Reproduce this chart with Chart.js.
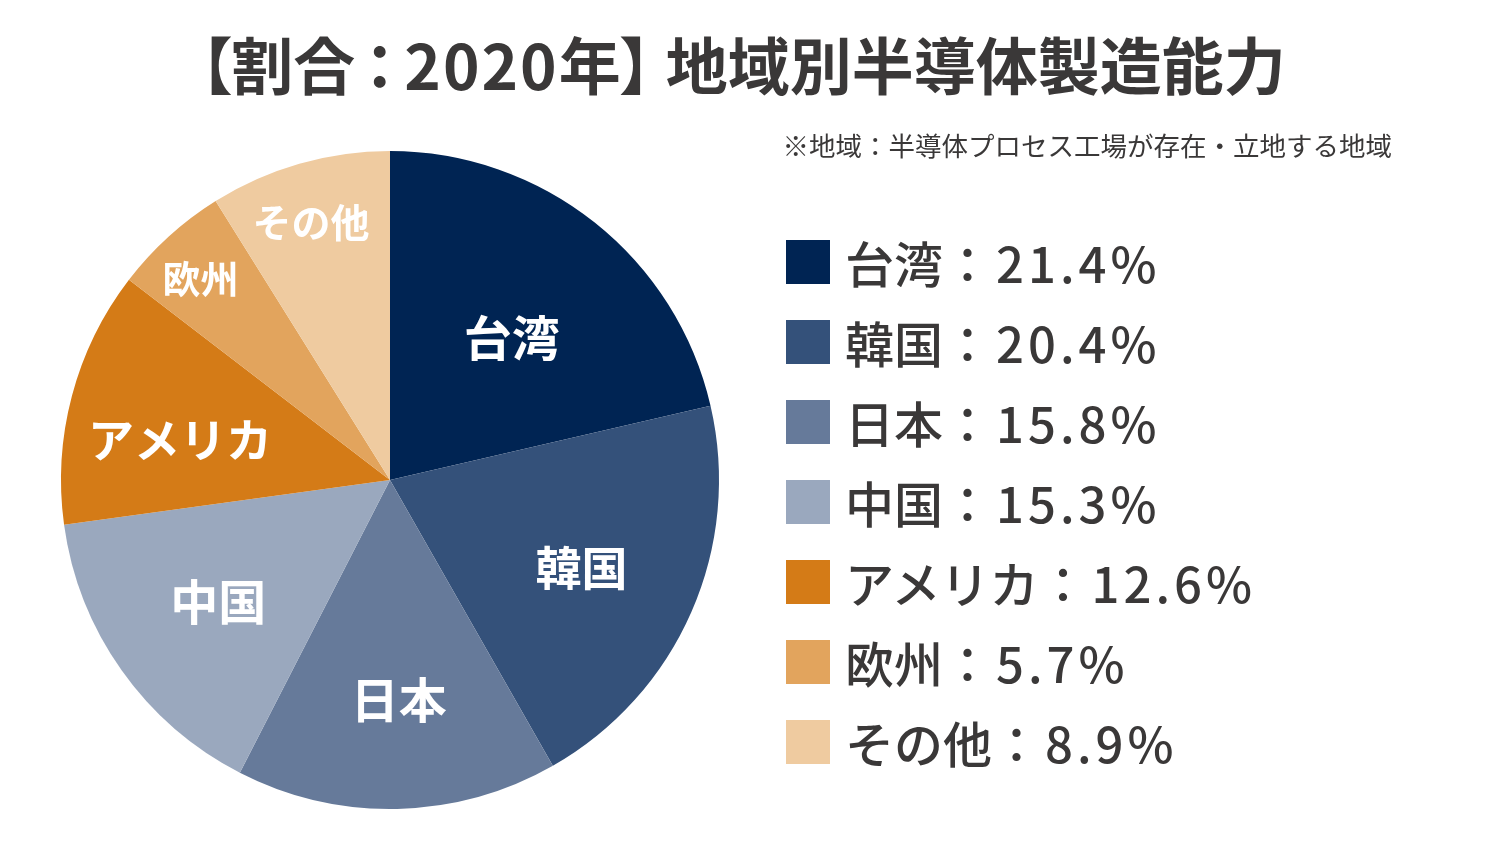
<!DOCTYPE html>
<html lang="ja">
<head>
<meta charset="utf-8">
<script src="https://cdn.jsdelivr.net/npm/chart.js@4/dist/chart.umd.min.js"></script>
<style>
  html, body { margin: 0; padding: 0; background: #fff; }
  body { width: 1486px; height: 847px; position: relative; overflow: hidden;
         font-family: "Noto Sans CJK JP", "Noto Sans", sans-serif; color: #3a3838; }
  #wrap { position: absolute; left: 0; top: 0; width: 1486px; height: 847px; }
  #title { position: absolute; left: 0; width: 1486px; top: 23px; text-align: center;
           font-size: 62px; font-weight: 700; line-height: 80px;
           font-feature-settings: "palt"; }
  #title .num { letter-spacing: 2px; }
  #title .sep { margin: 0 9px; }
  #note { position: absolute; right: 94px; top: 127px; font-size: 26.5px; line-height: 36px; }
  #legend { position: absolute; left: 786px; top: 222px; }
  .row { height: 80px; display: flex; align-items: center; }
  .box { width: 44px; height: 44px; margin-right: 15px; }
  .txt { font-size: 49px; font-weight: 500; line-height: 80px; }
  .txt .num { letter-spacing: 4px; margin-left: 4px; }
</style>
</head>
<body>
<div id="wrap"><canvas id="pieChart" width="1486" height="847"></canvas></div>
<div id="title">【割合<span class="sep">：</span><span class="num">2020</span>年】 地域別半導体製造能力</div>
<div id="note">※地域：半導体プロセス工場が存在・立地する地域</div>
<div id="legend"></div>
<script>
// donnees
const regions = ['台湾', '韓国', '日本', '中国', 'アメリカ', '欧州', 'その他'];
const shares = [21.4, 20.4, 15.8, 15.3, 12.6, 5.7, 8.9];
const colors = ['#002453', '#34517a', '#667a9a', '#9aa8be', '#d47b17', '#e2a45d', '#efcba0'];

// style des etiquettes dans les parts (rayon relatif, decalage en degres, taille)
const labelRadius = [0.57, 0.64, 0.67, 0.64, 0.65, 0.84, 0.82];
const labelTurn = [2, 1, -1, 0, -4, -1, -1];
const labelSize = [48, 46, 48, 48, 46, 38, 39];

// legende a droite
const legend = document.getElementById('legend');
regions.forEach((name, i) => {
    const row = document.createElement('div');
    row.className = 'row';
    row.innerHTML = `<div class="box" style="background:${colors[i]}"></div>
        <div class="txt">${name}：<span class="num">${shares[i].toFixed(1)}%</span></div>`;
    legend.appendChild(row);
});

//etiquettes blanches sur les parts :
const sliceLabels = {
    id: 'sliceLabels',
    afterDatasetsDraw(chart) {
        const ctx = chart.ctx;
        const arcs = chart.getDatasetMeta(0).data;
        ctx.save();
        ctx.fillStyle = '#ffffff';
        ctx.textAlign = 'center';
        ctx.textBaseline = 'middle';
        arcs.forEach((arc, i) => {
            const p = arc.getProps(['x', 'y', 'startAngle', 'endAngle', 'outerRadius'], true);
            const mid = (p.startAngle + p.endAngle) / 2 + labelTurn[i] * Math.PI / 180;
            const r = p.outerRadius * labelRadius[i];
            ctx.font = `700 ${labelSize[i]}px "Noto Sans CJK JP", sans-serif`;
            ctx.fillText(regions[i], p.x + Math.cos(mid) * r, p.y + Math.sin(mid) * r);
        });
        ctx.restore();
    }
};

const chart = new Chart(document.getElementById('pieChart'), {
    type: 'pie',
    data: {
        labels: regions,
        datasets: [{
            data: shares,
            backgroundColor: colors,
            borderWidth: 0
        }]
    },
    options: {
        responsive: false,
        animation: false,
        layout: {
            padding: { left: 61, right: 767, top: 151, bottom: 38 }
        },
        plugins: {
            legend: { display: false },
            tooltip: { enabled: false }
        }
    },
    plugins: [sliceLabels]
});
</script>
</body>
</html>
